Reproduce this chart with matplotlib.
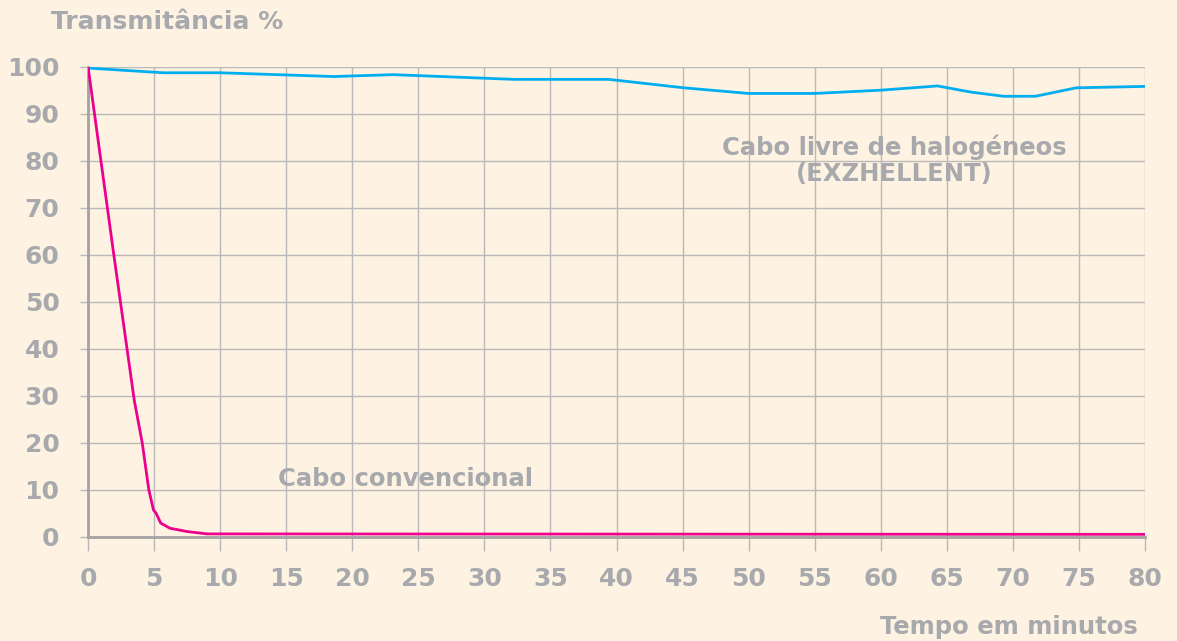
import matplotlib
matplotlib.use("Agg")
import matplotlib.pyplot as plt

# dados
tempo_livre = [0, 5.7, 10, 18.6, 23.1, 32.2, 39.4, 45.1, 50, 55, 60, 64.3, 66.8, 69.3, 71.7, 74.8, 80]
trans_livre = [99.7, 98.7, 98.7, 97.9, 98.3, 97.3, 97.3, 95.5, 94.3, 94.3, 95.0, 95.9, 94.6, 93.7, 93.7, 95.5, 95.8]

tempo_conv = [0, 1.9, 3.5, 4.1, 4.6, 4.95, 5.15, 5.5, 6.2, 7.5, 9, 80]
trans_conv = [100, 61, 29, 20, 10, 5.7, 5.0, 2.9, 1.8, 1.1, 0.6, 0.5]

x_ticks = list(range(0, 81, 5))
y_ticks = list(range(0, 101, 10))

bg = "#fef3e2"
gray = "#a7a9ac"
grid = "#b9b9b9"

plt.rcParams["font.family"] = ["DejaVu Sans"]
plt.rcParams["font.weight"] = "bold"

fig = plt.figure(figsize=(11.77, 6.41), dpi=100, facecolor=bg)
ax = fig.add_axes([0.0748, 0.1627, 0.898, 0.7333], facecolor=bg)

ax.plot(tempo_livre, trans_livre, color="#00aeef", lw=2, zorder=3)
ax.plot(tempo_conv, trans_conv, color="#ec008c", lw=2, zorder=3)

ax.set_xlim(0, 80)
ax.set_ylim(0, 100)
ax.set_xticks(x_ticks)
ax.set_yticks(y_ticks)
ax.grid(True, color=grid, lw=1.0)
ax.set_axisbelow(True)

for s in ["top", "right"]:
    ax.spines[s].set_visible(False)
for s in ["left", "bottom"]:
    ax.spines[s].set_color("#a3a3a3")
    ax.spines[s].set_linewidth(2)

ax.tick_params(axis="x", length=10, width=1.0, color=grid, pad=12,
               labelsize=18, labelcolor=gray)
ax.tick_params(axis="y", length=6, width=1.0, color=grid, pad=14.5,
               labelsize=18, labelcolor=gray)
for lab in ax.get_xticklabels() + ax.get_yticklabels():
    lab.set_fontweight("bold")

fig.text(0.043, 0.966, "Transmitância %", color=gray, fontsize=18,
         fontweight="bold", va="center", ha="left")
fig.text(0.967, 0.022, "Tempo em minutos", color=gray, fontsize=17.5,
         fontweight="bold", va="center", ha="right")

ax.text(61, 80.1, "Cabo livre de halogéneos\n(EXZHELLENT)", color=gray,
        fontsize=17.5, fontweight="bold", ha="center", va="center",
        linespacing=1.08)
ax.text(24.0, 12.2, "Cabo convencional", color=gray, fontsize=17.5,
        fontweight="bold", ha="center", va="center")

fig.savefig("out.png", dpi=100, facecolor=bg)
